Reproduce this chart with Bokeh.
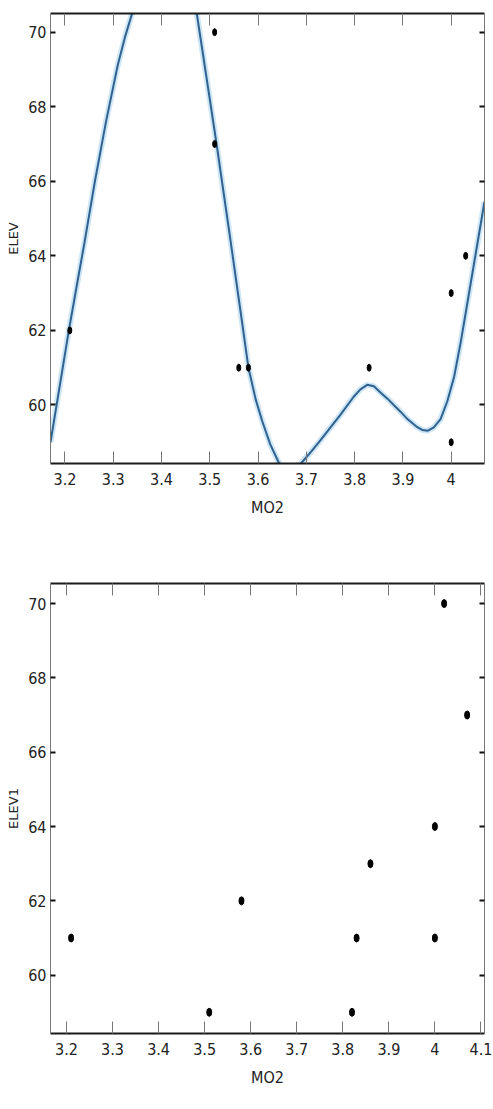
from bokeh.plotting import figure
from bokeh.models import Range1d, LinearAxis, FixedTicker
from bokeh.layouts import column
from bokeh.embed import file_html
from bokeh.resources import INLINE

# ---------------- data ----------------
# upper panel: observed points
no2_top = [3.21, 3.51, 3.51, 3.56, 3.58, 3.83, 4.00, 4.00, 4.03]
elev_top = [62, 70, 67, 61, 61, 61, 63, 59, 64]

# upper panel: fitted curve, sampled along the drawn line
curve_no2 = [3.170, 3.190, 3.208, 3.228, 3.241, 3.262, 3.285, 3.309, 3.325, 3.339,
             3.370, 3.405, 3.440, 3.473, 3.500, 3.514, 3.543, 3.567, 3.580,
             3.595, 3.609, 3.625, 3.643, 3.665, 3.690, 3.710, 3.729, 3.750,
             3.770, 3.798, 3.812, 3.826, 3.840, 3.854, 3.868, 3.881, 3.895,
             3.908, 3.928, 3.940, 3.952, 3.964, 3.978, 3.992, 4.006, 4.020,
             4.035, 4.052, 4.069]
curve_elev = [59.0, 60.58, 62.0, 63.46, 64.4, 66.0, 67.6, 69.1, 69.9, 70.5,
              71.7, 72.3, 71.8, 70.5, 68.2, 67.0, 64.4, 62.2, 61.0,
              60.15, 59.55, 58.95, 58.45, 57.9, 58.45, 58.75, 59.05, 59.4,
              59.73, 60.22, 60.42, 60.54, 60.5, 60.33, 60.17, 60.0, 59.82,
              59.64, 59.42, 59.33, 59.31, 59.40, 59.62, 60.1, 60.75, 61.7,
              62.85, 64.15, 65.45]

# lower panel: observed points
no2_bot = [3.21, 3.51, 3.58, 3.82, 3.83, 3.86, 4.00, 4.00, 4.02, 4.07]
elev_bot = [61, 59, 62, 59, 61, 63, 61, 64, 70, 67]

x_ticks_top = [3.2, 3.3, 3.4, 3.5, 3.6, 3.7, 3.8, 3.9, 4.0]
x_labels_top = ["3.2", "3.3", "3.4", "3.5", "3.6", "3.7", "3.8", "3.9", "4"]
x_ticks_bot = [3.2, 3.3, 3.4, 3.5, 3.6, 3.7, 3.8, 3.9, 4.0, 4.1]
x_labels_bot = ["3.2", "3.3", "3.4", "3.5", "3.6", "3.7", "3.8", "3.9", "4", "4.1"]
y_ticks = [60, 62, 64, 66, 68, 70]
y_labels = ["60", "62", "64", "66", "68", "70"]

TICK_FONT = "DejaVu Sans Condensed"


def make_panel(height, width, borders, xr, yr, xticks, xlabels, xlabel, ylabel):
    bl, br, bt, bb = borders
    p = figure(width=width, height=height, output_backend="svg",
               toolbar_location=None, x_axis_type=None, y_axis_type=None,
               x_range=Range1d(*xr), y_range=Range1d(*yr),
               min_border_left=bl, min_border_right=br,
               min_border_top=bt, min_border_bottom=bb,
               outline_line_color=None, background_fill_color="white",
               border_fill_color="white")

    xt = FixedTicker(ticks=xticks, minor_ticks=[])
    yt = FixedTicker(ticks=y_ticks, minor_ticks=[])

    bottom = LinearAxis(ticker=xt, axis_label=xlabel)
    bottom.major_label_overrides = {t: l for t, l in zip(xticks, xlabels)}
    top = LinearAxis(ticker=xt)
    for ax in (bottom, top):
        ax.axis_line_color = "#1a1a1a"
        ax.axis_line_width = 2
        ax.major_tick_in = 12
        ax.major_tick_out = 0
        ax.major_tick_line_color = "#777777"
        ax.major_tick_line_width = 1
        ax.minor_tick_line_color = None
    top.major_label_text_color = None

    left = LinearAxis(ticker=yt, axis_label=ylabel)
    left.major_label_overrides = {t: l for t, l in zip(y_ticks, y_labels)}
    right = LinearAxis(ticker=yt)
    for ax in (left, right):
        ax.axis_line_color = "#777777"
        ax.axis_line_width = 1
        ax.major_tick_in = 5
        ax.major_tick_out = 0
        ax.major_tick_line_color = "#111111"
        ax.major_tick_line_width = 2
        ax.minor_tick_line_color = None
    right.major_label_text_color = None

    for ax in (bottom, left):
        ax.major_label_text_font = TICK_FONT
        ax.major_label_text_font_size = "16px"
        ax.major_label_text_color = "#222222"
        ax.axis_label_text_font_style = "normal"
        ax.axis_label_text_color = "#222222"
    bottom.major_label_standoff = 9
    bottom.axis_label_standoff = 10
    bottom.axis_label_text_font = TICK_FONT
    bottom.axis_label_text_font_size = "16px"
    left.major_label_standoff = 4
    left.axis_label_standoff = 4
    left.axis_label_text_font = "DejaVu Sans"
    left.axis_label_text_font_size = "13px"

    p.add_layout(bottom, "below")
    p.add_layout(top, "above")
    p.add_layout(left, "left")
    p.add_layout(right, "right")
    return p


top_fig = make_panel(560, 493, (50, 9, 13, 97), (3.170, 4.069), (58.43, 70.5),
                     x_ticks_top, x_labels_top, "MO2", "ELEV")
top_fig.line(curve_no2, curve_elev, line_color="#cfe6f5", line_width=6)
top_fig.line(curve_no2, curve_elev, line_color="#2f6290", line_width=2)
top_fig.ellipse(no2_top, elev_top, width=4, height=7, width_units="screen",
                height_units="screen", color="black")

bot_fig = make_panel(549, 493, (40, 0, 23, 76), (3.1653, 4.1077), (58.43, 70.54),
                     x_ticks_bot, x_labels_bot, "MO2", "ELEV1")
bot_fig.ellipse(no2_bot, elev_bot, width=5, height=8, width_units="screen",
                height_units="screen", color="black")

layout = column(top_fig, bot_fig, spacing=0)
open("out.html", "w").write(file_html(layout, INLINE))
